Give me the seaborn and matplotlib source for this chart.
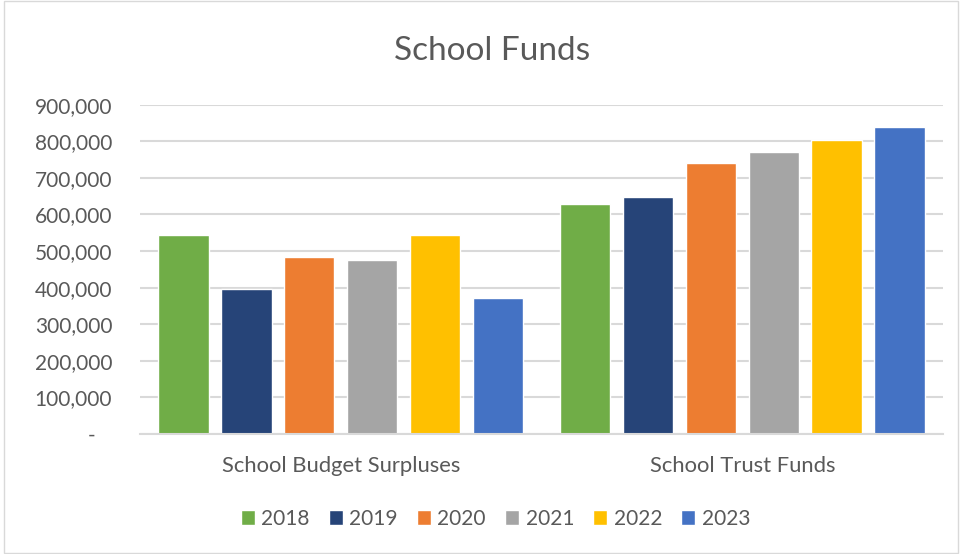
import pandas as pd
import matplotlib
matplotlib.use('Agg')
import matplotlib.pyplot as plt
import matplotlib.ticker as mticker
from matplotlib.patches import Rectangle
import seaborn as sns

sns.set_theme(style="white")
plt.rcParams['font.family'] = ['Lato', 'DejaVu Sans']

# Data
categories = ['School Budget Surpluses', 'School Trust Funds']
years = ['2018', '2019', '2020', '2021', '2022', '2023']
budget_surpluses = [545000, 395000, 483000, 475000, 545000, 371000]
trust_funds = [629000, 647000, 742000, 772000, 804000, 840000]
colors = ['#70AD47', '#264478', '#ED7D31', '#A5A5A5', '#FFC000', '#4472C4']

rows = []
for year, v1, v2 in zip(years, budget_surpluses, trust_funds):
    rows.append({'category': categories[0], 'year': year, 'value': v1})
    rows.append({'category': categories[1], 'year': year, 'value': v2})
df = pd.DataFrame(rows)

text_color = '#595959'
grid_color = '#D9D9D9'

fig = plt.figure(figsize=(9.6, 5.54), dpi=100)
ax = fig.add_axes([140 / 960, 1 - 434 / 554, 803 / 960, 329.3 / 554])

sns.barplot(data=df, x='category', y='value', hue='year', order=categories,
            hue_order=years, palette=colors, width=0.94, gap=0.2,
            saturation=1, ax=ax, legend=True)

ax.set_xlim(-0.5, 1.5)
ax.set_ylim(0, 900000)
ax.set_yticks(range(0, 900001, 100000))
ax.yaxis.set_major_formatter(mticker.FuncFormatter(
    lambda v, pos: '-   ' if v == 0 else f'{v:,.0f}'))
ax.grid(axis='y', color=grid_color, linewidth=1.5)
ax.set_axisbelow(True)
for side in ['top', 'right', 'left']:
    ax.spines[side].set_visible(False)
ax.spines['bottom'].set_color(grid_color)
ax.spines['bottom'].set_linewidth(1.5)
ax.tick_params(axis='both', length=0, colors=text_color)
ax.tick_params(axis='y', pad=20, labelsize=15)
ax.tick_params(axis='x', pad=16, labelsize=15.8)
ax.set_xlabel('')
ax.set_ylabel('')

fig.suptitle('School Funds', x=0.5125, y=0.935, fontsize=24, color=text_color)

handles, labels = ax.get_legend_handles_labels()
ax.get_legend().remove()
fig.legend(handles, labels, loc='center', bbox_to_anchor=(0.516, 1 - 519 / 554),
           ncol=6, frameon=False, fontsize=15, labelcolor=text_color,
           handlelength=0.7, handleheight=0.7, handletextpad=0.3, columnspacing=0.9)

fig.patches.append(Rectangle((0.004, 0.002), 0.994, 0.996, transform=fig.transFigure,
                             fill=False, edgecolor=grid_color, linewidth=1))

fig.savefig('out.png', dpi=100, facecolor='white')
